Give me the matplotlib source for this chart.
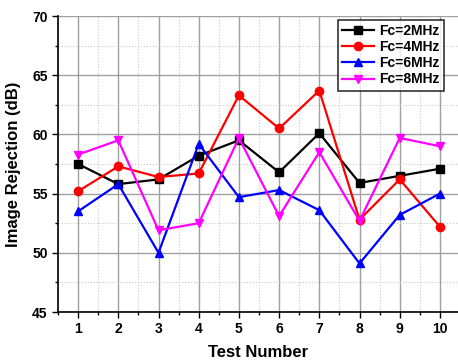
import numpy as np
import matplotlib.pyplot as plt
from matplotlib.ticker import MultipleLocator

plt.rcParams['font.family'] = ['Liberation Sans', 'DejaVu Sans']
plt.rcParams['font.weight'] = 'bold'

# data
tests = [1, 2, 3, 4, 5, 6, 7, 8, 9, 10]
fc2 = [57.5, 55.8, 56.2, 58.2, 59.5, 56.8, 60.1, 55.9, 56.5, 57.1]
fc4 = [55.2, 57.3, 56.4, 56.7, 63.3, 60.5, 63.7, 52.8, 56.2, 52.2]
fc6 = [53.5, 55.8, 50.0, 59.2, 54.7, 55.3, 53.6, 49.1, 53.2, 55.0]
fc8 = [58.3, 59.5, 51.9, 52.5, 59.7, 53.1, 58.5, 52.7, 59.7, 59.0]

series = [fc2, fc4, fc6, fc8]
names = ['Fc=2MHz', 'Fc=4MHz', 'Fc=6MHz', 'Fc=8MHz']
colors = ['black', 'red', 'blue', 'magenta']
markers = ['s', 'o', '^', 'v']

fig = plt.figure(figsize=(4.58, 3.62), dpi=100)
ax = fig.add_axes([58 / 458, 1 - 312 / 362, 400 / 458, 296 / 362])

for d, n, c, m in zip(series, names, colors, markers):
    ax.plot(tests, d, color=c, marker=m, markersize=6, linewidth=1.6, label=n)

ax.set_xlim(0.5, 0.5 + 400 / 40.2)
ax.set_ylim(45, 70)
ax.xaxis.set_major_locator(MultipleLocator(1))
ax.xaxis.set_minor_locator(MultipleLocator(0.5))
ax.yaxis.set_major_locator(MultipleLocator(5))
ax.yaxis.set_minor_locator(MultipleLocator(2.5))

ax.grid(which='major', color='#a0a0a0', linewidth=1.0, linestyle='-')
ax.grid(which='minor', color='#c8c8c8', linewidth=0.8, linestyle=':')
ax.set_axisbelow(True)

ax.tick_params(which='major', direction='out', length=4, width=1, labelsize=10)
ax.tick_params(which='minor', direction='out', length=2.5, width=1)
ax.spines['left'].set_linewidth(1.2)
ax.spines['bottom'].set_linewidth(1.2)
ax.spines['top'].set_visible(False)
ax.spines['right'].set_visible(False)

ax.set_xlabel('Test Number', fontsize=12, fontweight='bold', labelpad=6)
ax.set_ylabel('Image Rejection (dB)', fontsize=12, fontweight='bold', labelpad=8)

leg = ax.legend(loc='upper right', bbox_to_anchor=(0.965, 0.9865), fontsize=10,
                frameon=True, fancybox=False, edgecolor='black', borderaxespad=0,
                handlelength=2.3, borderpad=0.3, labelspacing=0.15, handletextpad=0.4)
leg.get_frame().set_linewidth(1.2)

fig.savefig('out.png', dpi=100)
